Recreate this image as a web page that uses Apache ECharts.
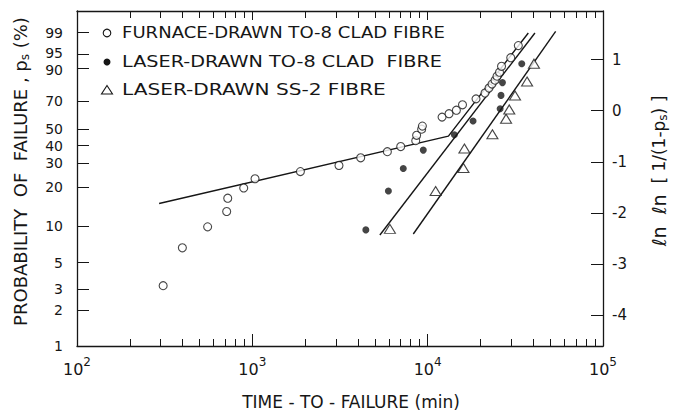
<!DOCTYPE html>
<html>
<head>
<meta charset="utf-8">
<script src="https://cdn.jsdelivr.net/npm/echarts@6/dist/echarts.min.js"></script>
<style>
html, body { margin: 0; padding: 0; background: #fff; }
#chart { width: 681px; height: 415px; }
</style>
</head>
<body>
<div id="chart"></div>
<script>
// time-to-failure (min) and ln ln[1/(1-ps)]
var furnaceTime = [310, 399, 556, 714, 724, 893, 1036, 1880, 3120, 4150, 5890, 7020, 8550, 8650, 9240, 9330,
    12080, 13240, 14580, 15800, 18870, 21230, 22380, 23280, 24220, 24860, 25690, 26380, 29770, 32890];
var furnaceLnLn = [-3.42, -2.68, -2.27, -1.97, -1.71, -1.51, -1.33, -1.19, -1.07, -0.92, -0.80, -0.70, -0.585, -0.48, -0.36, -0.30,
    -0.125, -0.058, 0.01, 0.116, 0.232, 0.347, 0.444, 0.521, 0.598, 0.676, 0.753, 0.869, 1.037, 1.274];

var laserTo8Time = [4440, 5970, 7260, 9440, 14200, 18150, 25900, 26200, 26700, 34400];
var laserTo8LnLn = [-2.33, -1.57, -1.13, -0.77, -0.47, -0.20, 0.04, 0.30, 0.55, 0.92];

var laserSs2Time = [6090, 11100, 16000, 16200, 23400, 28000, 29200, 31500, 36900, 40400];
var laserSs2LnLn = [-2.31, -1.57, -1.12, -0.74, -0.46, -0.155, 0.025, 0.296, 0.57, 0.92];

// fitted lines
var fitFurnaceTime = [294, 13130, 37500];
var fitFurnaceLnLn = [-1.815, -0.496, 1.52];
var fitLaserTo8Time = [5340, 40900];
var fitLaserTo8LnLn = [-2.43, 1.52];
var fitLaserSs2Time = [8280, 53700];
var fitLaserSs2LnLn = [-2.41, 1.55];

// axis ticks
var probTicks = [1, 2, 3, 5, 10, 20, 30, 40, 50, 70, 90, 95, 99];
var lnlnTicks = [-4, -3, -2, -1, 0, 1];
var decadeTicks = [100, 1000, 10000, 100000];
var minorTicks = [200, 300, 400, 500, 600, 700, 800, 900,
    2000, 3000, 4000, 5000, 6000, 7000, 8000, 9000,
    20000, 30000, 40000, 50000, 60000, 70000, 80000, 90000];

var names = ['FURNACE-DRAWN TO-8 CLAD FIBRE', 'LASER-DRAWN TO-8 CLAD  FIBRE', 'LASER-DRAWN SS-2 FIBRE'];

// weibull probability scale: p (%) -> ln ln[1/(1-p)]
var weib = function (p) {
    return Math.log(-Math.log(1 - p / 100));
};
var pairs = function (xs, ys) {
    return xs.map(function (x, i) { return [x, ys[i]]; });
};

var ink = '#161616';
var font = 'DejaVu Sans';
var probPos = probTicks.map(weib);
var yMin = weib(1);
var yMax = 1.95;

// crowded labels (40/50, 90/95) are pushed a hair apart so they do not touch
var labelShift = [0, 0, 0, 0, 0, 0, 0, -0.017, 0.017, 0, -0.036, 0.036, 0];
var probLabelPos = probPos.map(function (q, i) { return q + labelShift[i]; });

// legend is drawn by hand: the lettering in the original is very wide
var legendFont = '15px "DejaVu Sans"';
var legendRight = [445, 442, 386];
var legendRowY = [33, 62, 90];
var measure = document.createElement('canvas').getContext('2d');
measure.font = legendFont;
var legendText = names.map(function (n, i) {
    var w = measure.measureText(n).width;
    return {
        type: 'text', x: 122, y: legendRowY[i], scaleX: (legendRight[i] - 122) / w,
        style: {text: n, font: legendFont, fill: ink, align: 'left', verticalAlign: 'middle'}
    };
});
var legendIcons = [
    {type: 'circle', shape: {cx: 107, cy: legendRowY[0], r: 3.8}, style: {fill: '#fff', stroke: ink, lineWidth: 1.1}},
    {type: 'circle', shape: {cx: 107, cy: legendRowY[1], r: 3.5}, style: {fill: ink}},
    {type: 'polygon', shape: {points: [[107, legendRowY[2] - 4.5], [112.5, legendRowY[2] + 4], [101.5, legendRowY[2] + 4]]},
        style: {fill: '#fff', stroke: ink, lineWidth: 1.1}}
];

var xAxisBase = function (pos, ticks, len, showLine) {
    return {
        type: 'log', logBase: 10, min: 100, max: 100000, position: pos,
        axisLine: {show: showLine, onZero: false, lineStyle: {color: ink, width: 1.3}},
        axisTick: {show: true, inside: true, length: len, customValues: ticks, lineStyle: {color: ink, width: 1}},
        minorTick: {show: false},
        splitLine: {show: false},
        axisLabel: {show: false}
    };
};

var xMain = xAxisBase('bottom', decadeTicks, 12, true);
xMain.axisLabel = {
    show: true,
    customValues: decadeTicks,
    margin: 10,
    formatter: function (v) {
        return '{b|10}{s|' + Math.round(Math.log(v) / Math.LN10) + '}';
    },
    rich: {
        b: {fontSize: 16, fontFamily: font, color: ink, padding: [5, 0, 0, 0], verticalAlign: 'top'},
        s: {fontSize: 12, fontFamily: font, color: ink, verticalAlign: 'top'}
    }
};
xMain.name = 'TIME - TO - FAILURE (min)';
xMain.nameLocation = 'middle';
xMain.nameGap = 47;
xMain.nameTextStyle = {fontSize: 17, fontFamily: font, color: ink, padding: [0, 0, 0, 22]};

var chart = echarts.init(document.getElementById('chart'), null, {renderer: 'svg'});

var option = {
    backgroundColor: '#fff',
    animation: false,
    textStyle: {fontFamily: font, color: ink},
    grid: {left: 77, right: 78, top: 11, bottom: 66, containLabel: false},
    graphic: legendIcons.concat(legendText),
    xAxis: [
        xMain,
        xAxisBase('bottom', minorTicks, 7, false),
        xAxisBase('top', decadeTicks, 9, true),
        xAxisBase('top', minorTicks, 7, false)
    ],
    yAxis: [
        {
            type: 'value', position: 'left', min: yMin, max: yMax,
            axisLine: {show: true, onZero: false, lineStyle: {color: ink, width: 1.3}},
            axisTick: {show: true, inside: true, length: 12, customValues: probPos, lineStyle: {color: ink}},
            axisLabel: {
                customValues: probLabelPos,
                margin: 14,
                fontSize: 14,
                fontFamily: font,
                color: ink,
                formatter: function (v) {
                    var best = 0;
                    probLabelPos.forEach(function (q, i) {
                        if (Math.abs(q - v) < Math.abs(probLabelPos[best] - v)) best = i;
                    });
                    return String(probTicks[best]);
                }
            },
            splitLine: {show: false},
            name: '{a|PROBABILITY  OF  FAILURE , p}{s|s}{a| (%)}',
            nameLocation: 'middle',
            nameRotate: 90,
            nameGap: 46,
            nameTextStyle: {
                padding: [0, 0, 0, 14],
                rich: {
                    a: {fontSize: 18, fontFamily: font, color: ink},
                    s: {fontSize: 12, fontFamily: font, color: ink, padding: [9, 0, 0, 0]}
                }
            }
        },
        {
            type: 'value', position: 'right', min: yMin, max: yMax,
            axisLine: {show: true, onZero: false, lineStyle: {color: ink, width: 1.3}},
            axisTick: {show: true, inside: true, length: 12, customValues: lnlnTicks, lineStyle: {color: ink}},
            axisLabel: {
                customValues: lnlnTicks,
                margin: 9,
                fontSize: 15,
                fontFamily: font,
                color: ink,
                formatter: function (v) { return String(Math.round(v)); }
            },
            splitLine: {show: false},
            name: '{l|\u2113n  \u2113n}{a|  [ 1/(1-p}{s|s}{a|) ]}',
            nameLocation: 'middle',
            nameRotate: 90,
            nameGap: 45,
            nameTextStyle: {
                padding: [0, 0, 0, 15],
                rich: {
                    l: {fontSize: 19, fontFamily: font, color: ink},
                    a: {fontSize: 17, fontFamily: font, color: ink},
                    s: {fontSize: 12, fontFamily: font, color: ink, padding: [9, 0, 0, 0]}
                }
            }
        }
    ],
    series: [
        {
            name: names[0], type: 'scatter', symbol: 'circle', symbolSize: 8,
            itemStyle: {color: '#fff', borderColor: ink, borderWidth: 1.1},
            data: pairs(furnaceTime, furnaceLnLn), z: 5
        },
        {
            name: names[1], type: 'scatter', symbol: 'circle', symbolSize: 7,
            itemStyle: {color: ink, borderColor: ink, borderWidth: 0},
            data: pairs(laserTo8Time, laserTo8LnLn), z: 5
        },
        {
            name: names[2], type: 'scatter', symbol: 'triangle', symbolSize: [11, 9],
            itemStyle: {color: '#fff', borderColor: ink, borderWidth: 1.1},
            data: pairs(laserSs2Time, laserSs2LnLn), z: 5
        },
        {
            type: 'line', showSymbol: false, symbol: 'none', silent: true,
            lineStyle: {color: ink, width: 1.4},
            data: pairs(fitFurnaceTime, fitFurnaceLnLn), z: 3
        },
        {
            type: 'line', showSymbol: false, symbol: 'none', silent: true,
            lineStyle: {color: ink, width: 1.4},
            data: pairs(fitLaserTo8Time, fitLaserTo8LnLn), z: 3
        },
        {
            type: 'line', showSymbol: false, symbol: 'none', silent: true,
            lineStyle: {color: ink, width: 1.4},
            data: pairs(fitLaserSs2Time, fitLaserSs2LnLn), z: 3
        }
    ]
};

chart.setOption(option);
</script>
</body>
</html>
